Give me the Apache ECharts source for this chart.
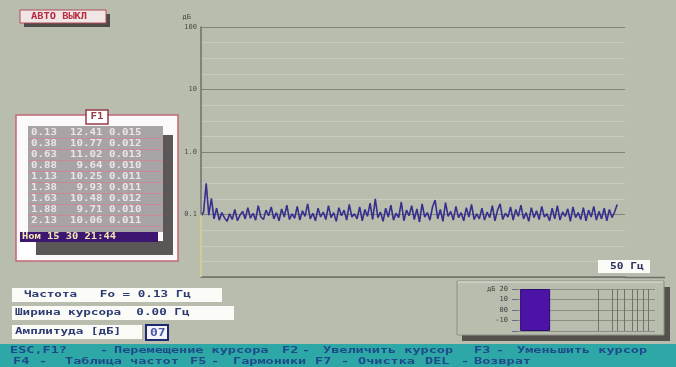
<!DOCTYPE html>
<html><head><meta charset="utf-8">
<script src="https://cdn.jsdelivr.net/npm/echarts@6/dist/echarts.min.js"></script>
<style>html,body{margin:0;padding:0;background:#b9bdae;overflow:hidden}#c{width:676px;height:367px;}</style>
</head><body><div id="c"></div>
<script>
// ---- data ----
const amplitude = [
0.97,1.04,1.50,0.99,1.26,0.93,1.10,0.91,1.03,0.95,
0.89,1.01,0.92,1.08,0.90,0.99,1.05,0.93,1.11,0.94,
1.02,0.91,1.14,0.96,0.92,1.07,0.98,1.12,0.93,1.03,
0.90,1.09,0.96,1.15,0.92,1.01,0.94,1.13,0.91,1.06,
0.97,1.17,0.93,1.02,0.90,1.10,0.96,1.04,0.92,1.14,
0.95,1.03,0.89,1.11,0.98,1.07,0.91,1.16,0.96,1.01,
0.93,1.12,0.90,1.08,0.97,1.18,0.92,1.25,0.95,1.04,
0.89,1.10,0.96,1.15,0.91,1.02,0.95,1.20,0.90,1.07,
0.98,1.14,0.92,1.09,0.88,1.17,0.96,1.03,0.91,1.12,
1.23,0.93,1.08,0.89,1.19,0.97,1.05,0.91,1.13,0.95,
1.03,0.90,1.11,0.96,1.16,0.92,1.01,0.93,1.10,0.91,
1.04,0.95,1.14,0.90,1.07,1.17,0.92,1.02,0.96,1.12,
0.91,1.08,0.97,1.15,0.93,1.03,0.89,1.11,0.95,1.06,
0.92,1.13,0.96,1.01,0.90,1.10,0.93,1.14,0.91,1.04,
0.97,1.09,0.89,1.12,0.95,1.03,0.92,1.11,0.90,1.07,
0.96,1.13,0.91,1.05,0.93,1.10,0.90,1.08,0.95,1.04,1.16
];
const levelTickLabels = ['', '0.1', '1.0', '10', '100'];
const cursorLevel = 1.0;
const padCategories = ['', '', ''];
const miniCategories = ['1', '2', '3', '4'];
const miniValues = [4, '-', '-', '-'];
const miniTickLabels = ['', '-10', '00', '10', 'дБ 20'];
const miniFreqMarks = [15, 24, 28, 36, 46, 55, 67, 80];
const tableRows = [
  '0.13  12.41 0.015',
  '0.38  10.77 0.012',
  '0.63  11.02 0.013',
  '0.88   9.64 0.010',
  '1.13  10.25 0.011',
  '1.38   9.93 0.011',
  '1.63  10.48 0.012',
  '1.88   9.71 0.010',
  '2.13  10.06 0.011'
];
const tableFooter = 'Ном 15 30 21:44';

const freqLabels = amplitude.map((_, i) => (i * 0.3125).toFixed(2)).concat(padCategories);

// ---- helpers for screen decoration ----
const MONO = '"DejaVu Sans Mono", monospace';
function T(x, y, text, fill, opts) {
  opts = opts || {};
  return {
    type: 'text', x: x, y: y, z: 20, scaleX: opts.sx || 1.4,
    style: {text: text, fill: fill, font: (opts.weight || 'bold') + ' ' + (opts.size || 10) + 'px ' + MONO,
      textVerticalAlign: 'middle', textAlign: opts.align || 'left'}
  };
}
function R(x, y, w, h, fill, stroke, lw, z) {
  return {type: 'rect', z: z || 10, shape: {x: x, y: y, width: w, height: h},
    style: {fill: fill || 'none', stroke: stroke || null, lineWidth: lw || 1}};
}
function L(x1, y1, x2, y2, color, w, z) {
  return {type: 'line', z: z || 10, shape: {x1: x1, y1: y1, x2: x2, y2: y2}, style: {stroke: color, lineWidth: w || 1}};
}

const graphics = [];
// top-left button
graphics.push(R(24, 14, 86, 13, '#4e4a48'));
graphics.push(R(20, 10, 86, 13, '#f1e6e6', '#b04a5a', 1));
graphics.push(T(31, 17, 'АВТО ВЫКЛ', '#b8283e', {sx: 1.15, size: 9}));
// left table panel
graphics.push(R(16, 115, 162, 146, '#fbf9f9', '#c46677', 1.5));
graphics.push(R(163, 135, 10, 120, '#5b5757'));
graphics.push(R(36, 241, 137, 14, '#5b5757'));
graphics.push(R(28, 126, 135, 106, '#a8a3a5'));
tableRows.forEach((row, i) => {
  const y = 133 + i * 11;
  graphics.push(T(31, y, row, '#ebe4e8', {sx: 1.35, size: 8}));
  graphics.push(L(28, y + 5.5, 163, y + 5.5, '#c98a95', 1, 15));
});
graphics.push(R(20, 232, 138, 10, '#3c1670'));
graphics.push(T(22, 237, tableFooter, '#f4e7b0', {sx: 1.3, size: 8}));
graphics.push(R(19, 243, 16, 15, '#ffffff'));
graphics.push(R(86, 110, 22, 14, '#ffffff', '#9a3a4c', 1.5));
graphics.push(T(97, 117, 'F1', '#9a3a4c', {sx: 1.2, size: 9, align: 'center'}));
// axis extension line
graphics.push(L(625, 277.5, 665, 277.5, '#6e7268', 1.5));
// frequency box
graphics.push(R(598, 260, 52, 13, '#fbfbf8'));
graphics.push(T(610, 267, '50 Гц', '#2b3560', {sx: 1.25, size: 9}));
// bottom-left info boxes
graphics.push(R(12, 288, 210, 14, '#fbfbf8'));
graphics.push(T(24, 295, 'Частота   Fo = 0.13 Гц', '#2c3b72', {sx: 1.4, size: 9}));
graphics.push(R(12, 306, 222, 14, '#fbfbf8'));
graphics.push(T(15, 313, 'Ширина курсора  0.00 Гц', '#2c3b72', {sx: 1.4, size: 9}));
graphics.push(R(12, 325, 130, 14, '#fbfbf8'));
graphics.push(T(15, 332, 'Амплитуда [дБ]', '#2c3b72', {sx: 1.4, size: 9}));
graphics.push(R(146, 325, 22, 15, '#f4f5fb', '#1e2a70', 2));
graphics.push(T(150, 333, '07', '#4a5aa8', {sx: 1.3, size: 10}));
// mini chart frame
graphics.push(R(664, 287, 6, 54, '#55514f'));
graphics.push(R(462, 335, 208, 6, '#55514f'));
graphics.push(R(457, 281, 207, 54, 'none', '#8d9187', 1));
graphics.push(L(458, 282, 663, 282, '#e2e4da', 1));
// status bar
graphics.push(R(0, 344, 676, 23, '#2ea7a7', null, 1, 5));
const stat1 = [[10, 'ESC,F1?'], [100, '-'], [114, 'Перемещение курсора'], [282, 'F2'], [302, '-'],
  [323, 'Увеличить курсор'], [474, 'F3'], [496, '-'], [517, 'Уменьшить курсор']];
const stat2 = [[13, 'F4'], [39, '-'], [65, 'Таблица частот'], [190, 'F5'], [211, '-'], [233, 'Гармоники'],
  [315, 'F7'], [341, '-'], [358, 'Очистка'], [425, 'DEL'], [461, '-'], [474, 'Возврат']];
stat1.forEach(w => graphics.push(T(w[0], 351, w[1], '#1f4a8a', {sx: 1.5, size: 9})));
stat2.forEach(w => graphics.push(T(w[0], 362, w[1], '#1f4a8a', {sx: 1.5, size: 9})));

const chart = echarts.init(document.getElementById('c'), null, {renderer: 'canvas'});
chart.setOption({
  backgroundColor: '#b9bdae',
  animation: false,
  grid: [
    {left: 201, right: 51, top: 27, bottom: 90},
    {left: 518, right: 21, top: 289, bottom: 36}
  ],
  xAxis: [
    {type: 'category', gridIndex: 0, data: freqLabels, boundaryGap: false,
      axisLine: {lineStyle: {color: '#6e7268', width: 1.5}}, axisTick: {show: false}, axisLabel: {show: false},
      splitLine: {show: false}},
    {type: 'category', gridIndex: 1, data: miniCategories, boundaryGap: true,
      axisLine: {show: false}, axisTick: {show: false}, axisLabel: {show: false}, splitLine: {show: false}},
    {type: 'log', gridIndex: 1, min: 1, max: 100, logBase: 10,
      axisLine: {show: false}, axisTick: {show: false}, axisLabel: {show: false}, splitLine: {show: false}}
  ],
  yAxis: [
    {type: 'value', gridIndex: 0, min: 0, max: 4, interval: 1,
      name: 'дБ', nameLocation: 'end', nameGap: 6,
      nameTextStyle: {color: '#3e413c', fontSize: 7, fontFamily: MONO, align: 'right', padding: [0, 10, 0, 0]},
      axisLine: {show: true, lineStyle: {color: '#6e7268', width: 1.5}},
      axisTick: {show: false},
      axisLabel: {color: '#4a4d47', fontSize: 7, fontFamily: MONO, margin: 4,
        formatter: v => levelTickLabels[Math.round(v)] || ''},
      splitLine: {show: true, lineStyle: {color: '#80847a', width: 1}},
      minorTick: {show: false, splitNumber: 4},
      minorSplitLine: {show: true, lineStyle: {color: 'rgba(255,255,255,0.22)', width: 1}}},
    {type: 'value', gridIndex: 1, min: 0, max: 4, interval: 1,
      axisLine: {show: false},
      axisTick: {show: true, length: 6, lineStyle: {color: '#6e6a8a'}},
      axisLabel: {color: '#3e4140', fontSize: 7, fontFamily: MONO, margin: 10,
        formatter: v => miniTickLabels[Math.round(v)] || ''},
      splitLine: {show: true, lineStyle: {color: '#8a8e84', width: 1}}}
  ],
  series: [
    {type: 'line', xAxisIndex: 0, yAxisIndex: 0, data: amplitude, symbol: 'none',
      lineStyle: {color: '#372f8e', width: 1.6},
      markLine: {silent: true, symbol: 'none', label: {show: false},
        lineStyle: {color: '#e9e6a6', type: 'solid', width: 1.5},
        data: [[{coord: [0, cursorLevel]}, {coord: [0, 0]}]]}},
    {type: 'bar', xAxisIndex: 1, yAxisIndex: 1, data: miniValues, barWidth: 30,
      itemStyle: {color: '#4b13a6', borderColor: '#2d0c6e', borderWidth: 1}},
    {type: 'line', xAxisIndex: 2, yAxisIndex: 1, data: [[1, 0]], symbol: 'none',
      lineStyle: {opacity: 0},
      markLine: {silent: true, symbol: 'none', label: {show: false},
        lineStyle: {color: '#6f7369', type: 'solid', width: 1},
        data: miniFreqMarks.map(f => ({xAxis: f}))}}
  ],
  graphic: graphics
});
</script>
</body></html>
